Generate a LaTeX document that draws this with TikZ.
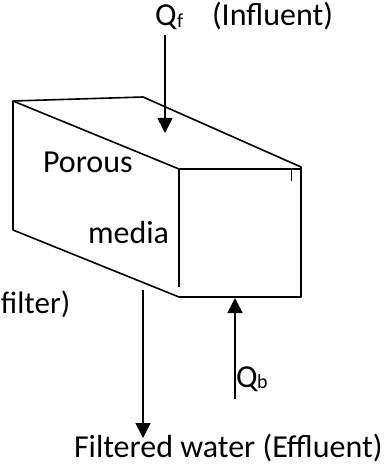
\documentclass[tikz,border=0pt]{standalone}
\usepackage{fontspec}
\setmainfont{Carlito}
\usetikzlibrary{arrows.meta}
\tikzset{
  edge/.style={line width=1.6pt,black,line join=round},
  flow/.style={line width=1.6pt,black,-{Triangle[length=15pt,width=15pt]}},
  lbl/.style={inner sep=0pt,outer sep=0pt,anchor=base west,font=\fontsize{32}{36}\selectfont},
  sub/.style={font=\fontsize{20}{22}\selectfont}
}
\begin{document}
\begin{tikzpicture}[x=1pt,y=-1pt]
\useasboundingbox (0,0) rectangle (386,465);
\clip (0,0) rectangle (386,465);
\coordinate (tl) at (13,101);
\coordinate (tb) at (143,97);
\coordinate (tr) at (301,167);
\coordinate (fl) at (179,169);
\coordinate (fr) at (301,169);
\coordinate (br) at (301,297);
\coordinate (bf) at (179,297);
\coordinate (bl) at (13,230);
\coordinate (fle) at (179,287);
\coordinate (t1) at (291,170);
\coordinate (t2) at (291,181);
\coordinate (qfs) at (165,35);
\coordinate (qfe) at (165,133);
\coordinate (efs) at (143,290);
\coordinate (efe) at (143,438);
\coordinate (qbs) at (235,399);
\coordinate (qbe) at (235,298);
\draw[edge] (bl) -- (tl) -- (tb) -- (tr) -- (fr) -- (br) -- (bf) -- (bl);
\draw[edge] (tl) -- (fl) -- (fr);
\draw[edge] (fl) -- (fle);
\draw[edge,line width=1pt] (t1) -- (t2);
\draw[flow] (qfs) -- (qfe);
\draw[flow] (efs) -- (efe);
\draw[flow] (qbs) -- (qbe);
\node[lbl] (qf) at (155,26) {Q};
\node[lbl,sub] (qfsub) at (177,28) {f};
\node[lbl] (inf) at (212,26) {(Influent)};
\node[lbl] (por) at (43,172) {Porous};
\node[lbl] (med) at (88,243) {media};
\node[lbl,font=\fontsize{31}{36}\selectfont] (fil) at (1,313) {filter)};
\node[lbl] (qb) at (236,387) {Q};
\node[lbl,sub] (qbsub) at (257,388) {b};
\node[lbl] (eff) at (74,457) {Filtered water (Effluent)};
\end{tikzpicture}
\end{document}
